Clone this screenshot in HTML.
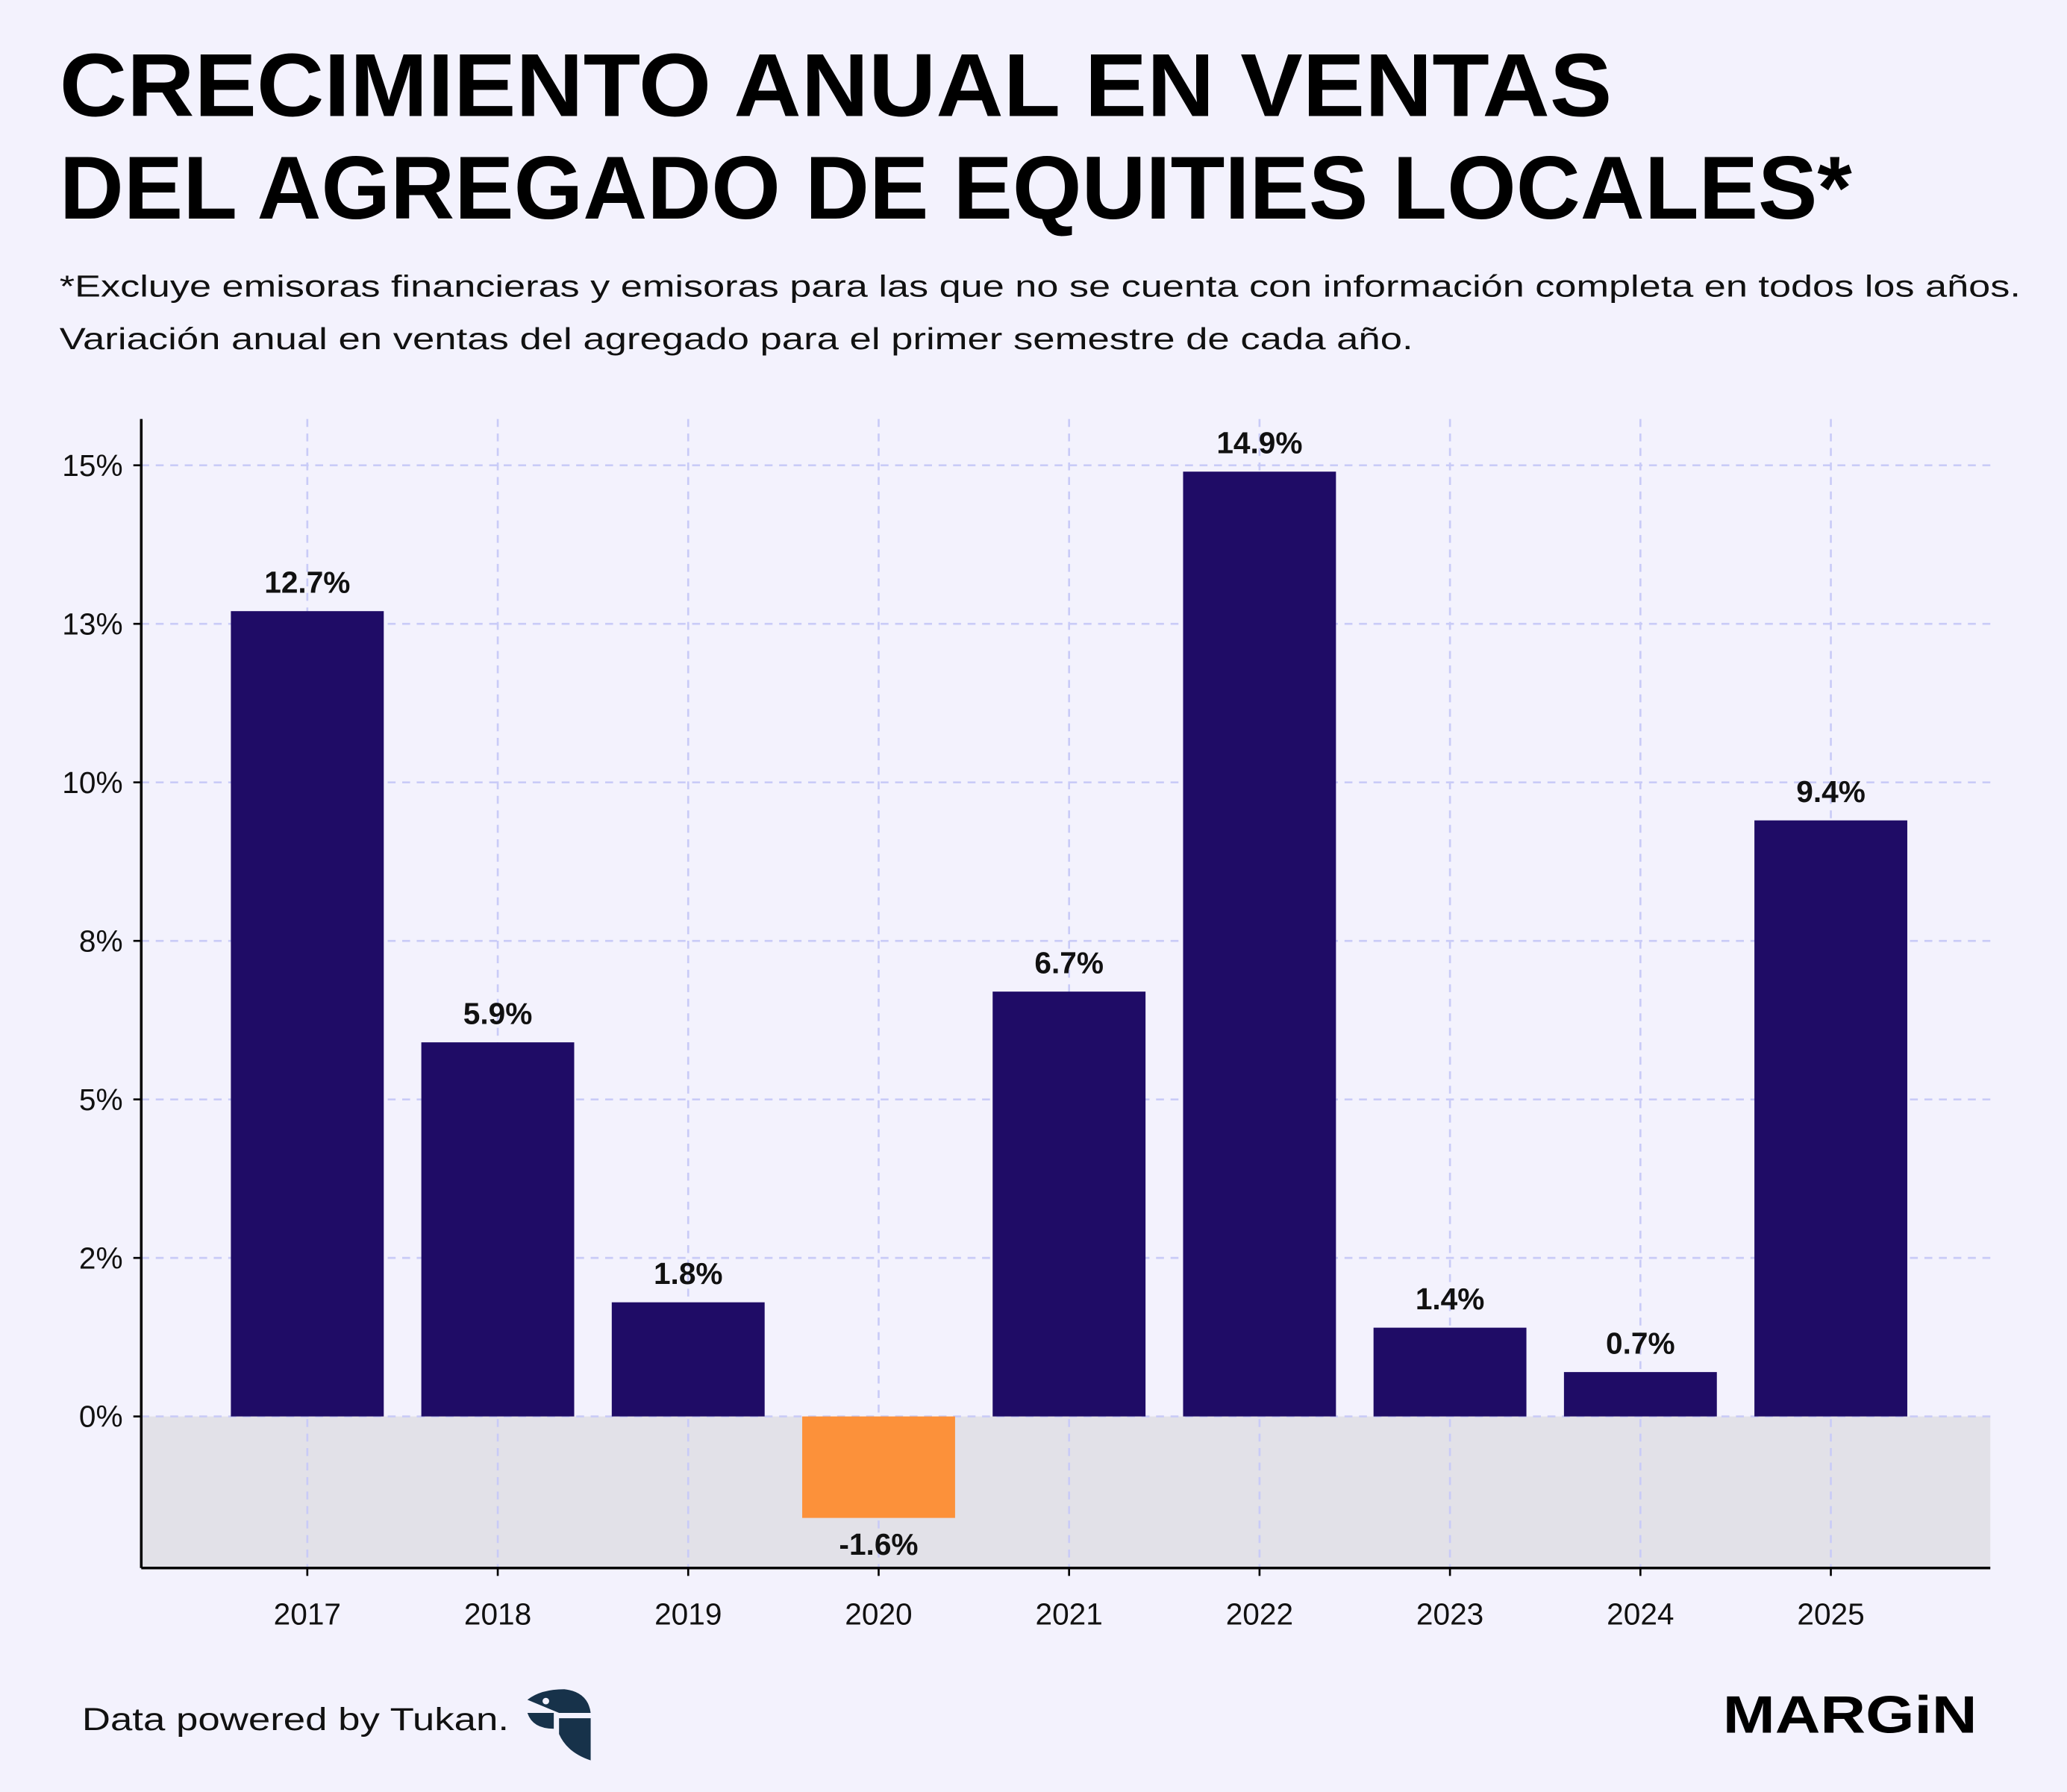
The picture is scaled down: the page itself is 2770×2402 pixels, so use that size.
<!DOCTYPE html>
<html><head><meta charset="utf-8">
<style>
html,body{margin:0;padding:0;background:#f3f2fd;}
svg{display:block;font-family:"Liberation Sans",sans-serif;}
</style></head>
<body>
<svg id="chart" width="2770" height="2402" viewBox="0 0 1568 1360" xmlns="http://www.w3.org/2000/svg">
<rect x="0" y="0" width="1568" height="1360" fill="#f3f2fd"/>
<text x="45" y="88" font-size="68" font-weight="bold" fill="#000" textLength="1178" lengthAdjust="spacingAndGlyphs">CRECIMIENTO ANUAL EN VENTAS</text>
<text x="45" y="166" font-size="68" font-weight="bold" fill="#000" textLength="1360" lengthAdjust="spacingAndGlyphs">DEL AGREGADO DE EQUITIES LOCALES*</text>
<text x="45" y="225" font-size="23" fill="#111" textLength="1488" lengthAdjust="spacingAndGlyphs">*Excluye emisoras financieras y emisoras para las que no se cuenta con información completa en todos los años.</text>
<text x="45" y="265" font-size="23" fill="#111" textLength="1027" lengthAdjust="spacingAndGlyphs">Variación anual en ventas del agregado para el primer semestre de cada año.</text>
<g id="plot"></g>
<text x="62" y="1313" font-size="24" fill="#111" textLength="324" lengthAdjust="spacingAndGlyphs">Data powered by Tukan.</text>
<g>
<path d="M400 1290 Q410 1282 428 1282 Q446 1284 448 1300 L424 1300 Z" fill="#17324a"/>
<path d="M400 1300 L420 1300 L420 1312 Q404 1312 400 1300 Z" fill="#17324a"/>
<path d="M424 1304 L448 1304 L448 1336 Q430 1330 424 1316 Z" fill="#17324a"/>
<circle cx="414" cy="1291" r="2.5" fill="#f3f2fd"/>
</g>
<text x="1500" y="1315" font-size="40" font-weight="bold" text-anchor="end" fill="#000" textLength="193" lengthAdjust="spacingAndGlyphs">MARGiN</text>
</svg>
<script>
const categories = ["2017","2018","2019","2020","2021","2022","2023","2024","2025"];
const values = [12.7, 5.9, 1.8, -1.6, 6.7, 14.9, 1.4, 0.7, 9.4];
const valueLabels = ["12.7%","5.9%","1.8%","-1.6%","6.7%","14.9%","1.4%","0.7%","9.4%"];
const tickValues = [0, 2.5, 5, 7.5, 10, 12.5, 15];
const tickLabels = ["0%","2%","5%","8%","10%","13%","15%"];

const NS = "http://www.w3.org/2000/svg";
const g = document.getElementById("plot");
const X0 = 107, X1 = 1510, Ytop = 318, Ybot = 1190;
const yMin = -2.39, yMax = 15.73;
const y = v => Ybot - (v - yMin) / (yMax - yMin) * (Ybot - Ytop);
const step = 144.5, first = 233;
const x = i => first + i * step;
const bw = 116;
function mk(tag, attrs){ const e = document.createElementNS(NS, tag); for (const k in attrs) e.setAttribute(k, attrs[k]); g.appendChild(e); return e; }

const shade = mk("rect", {x:X0, y:y(0), width:X1-X0, height:Ybot-y(0), fill:"#e2e1e8"});



tickValues.forEach((t, i) => {
  const ln = mk("line", {x1:X0, x2:X1, y1:y(t), y2:y(t), stroke:"#c9cbf7", "stroke-width":1.5, "stroke-dasharray":"6 5"});
  
  
  const tk = mk("line", {x1:X0-6, x2:X0, y1:y(t), y2:y(t), stroke:"#000", "stroke-width":1.5});
  
  
  const tx = mk("text", {x:X0-14, y:y(t)+8, "font-size":23, "text-anchor":"end", fill:"#111"});
  tx.textContent = tickLabels[i];
  
  
});
categories.forEach((c, i) => {
  const ln = mk("line", {x1:x(i), x2:x(i), y1:Ytop, y2:Ybot, stroke:"#c9cbf7", "stroke-width":1.5, "stroke-dasharray":"6 5"});
  
  
});
categories.forEach((c, i) => {
  const v = values[i];
  const top = v >= 0 ? y(v) : y(0);
  const h = Math.abs(y(v) - y(0));
  const b = mk("rect", {x:x(i)-bw/2, y:top, width:bw, height:h, fill: v >= 0 ? "#1f0c66" : "#fc913a"});
  
  
  const ly = v >= 0 ? y(v) - 14 : y(v) + 28;
  const t = mk("text", {x:x(i), y:ly, "font-size":23, "font-weight":"bold", "text-anchor":"middle", fill:"#111"});
  t.textContent = valueLabels[i];
  
  
  const tk = mk("line", {x1:x(i), x2:x(i), y1:Ybot, y2:Ybot+6, stroke:"#000", "stroke-width":1.5});
  
  
  const xl = mk("text", {x:x(i), y:Ybot+43, "font-size":23, "text-anchor":"middle", fill:"#111"});
  xl.textContent = c;
  
  
});
const ya = mk("line", {x1:X0, x2:X0, y1:Ytop, y2:Ybot, stroke:"#000", "stroke-width":2});


const xa = mk("line", {x1:X0, x2:X1, y1:Ybot, y2:Ybot, stroke:"#000", "stroke-width":2});


</script>
</body></html>
